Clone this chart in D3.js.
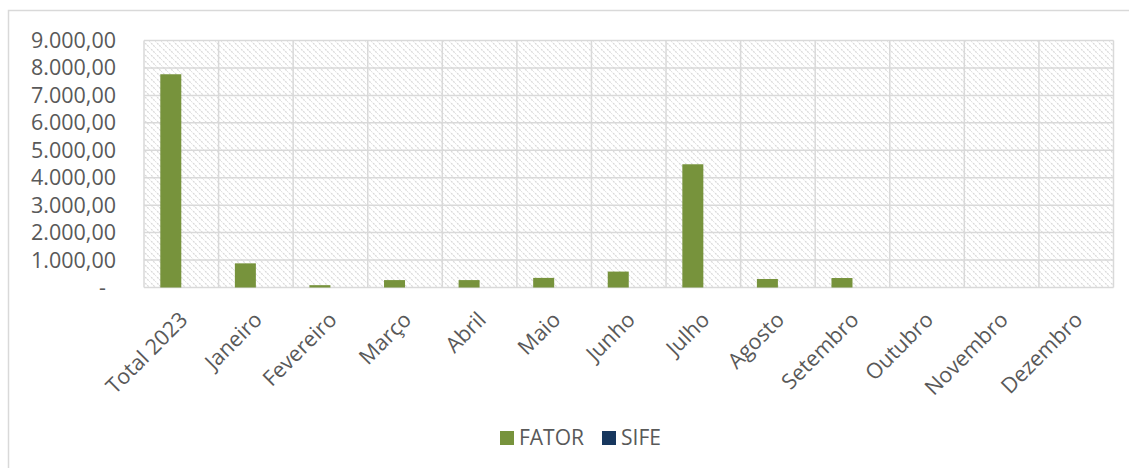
<!DOCTYPE html>
<html><head><meta charset="utf-8">
<script src="https://cdn.jsdelivr.net/npm/d3@7"></script>
<style>body{margin:0;background:#fff}svg{display:block}text{font-family:"Open Sans",sans-serif;fill:#595959}</style>
</head><body>
<svg id="c" width="1129" height="468"></svg>
<script>
const categories = ["Total 2023","Janeiro","Fevereiro","Março","Abril","Maio","Junho","Julho","Agosto","Setembro","Outubro","Novembro","Dezembro"];
const fator = [7770,880,85,270,270,350,580,4490,310,345,0,0,0];
const sife = [0,0,0,0,0,0,0,0,0,0,0,0,0];
const seriesNames = ["FATOR","SIFE"];
const seriesColors = ["#77933C","#17375E"];
const yTicks = [0,1000,2000,3000,4000,5000,6000,7000,8000,9000];

const svg = d3.select("#c");
const M = {left:144, right:1113.5, top:40.5, bottom:287.5};
const defs = svg.append("defs");
const pat = defs.append("pattern").attr("id","hatch").attr("patternUnits","userSpaceOnUse").attr("width",6).attr("height",6);
pat.append("rect").attr("width",6).attr("height",6).attr("fill","#fff");
pat.append("path").attr("d","M-1,-1 L7,7 M-4,2 L2,8 M4,-2 L10,4").attr("stroke","#d9d9d9").attr("stroke-width",1.2).attr("stroke-dasharray","2,1");

// outer border
svg.append("rect").attr("x",8.5).attr("y",10.5).attr("width",1130).attr("height",470).attr("fill","none").attr("stroke","#d9d9d9").attr("stroke-width",1.5);

const x = d3.scaleBand().domain(categories).range([M.left,M.right]).padding(0);
const x1 = d3.scaleBand().domain(seriesNames).range([0,x.bandwidth()]).paddingInner(0).paddingOuter(0.776);
const y = d3.scaleLinear().domain([0,9000]).range([M.bottom,M.top]);

svg.append("rect").attr("x",M.left).attr("y",M.top).attr("width",M.right-M.left).attr("height",M.bottom-M.top).attr("fill","url(#hatch)");

// gridlines
const g = svg.append("g");
g.selectAll("line.h").data(yTicks).join("line").attr("x1",M.left).attr("x2",M.right).attr("y1",d=>y(d)).attr("y2",d=>y(d)).attr("stroke","#d9d9d9").attr("stroke-width",1.5);
g.selectAll("line.v").data(categories.map(c=>x(c)).concat([M.right])).join("line").attr("class","v").attr("x1",d=>d).attr("x2",d=>d).attr("y1",M.top).attr("y2",M.bottom).attr("stroke","#d9d9d9").attr("stroke-width",1.5);

// bars
const data = [fator, sife];
seriesNames.forEach((s,si)=>{
  svg.append("g").selectAll("rect").data(categories).join("rect")
    .attr("x",(c)=>x(c)+x1(s)).attr("width",x1.bandwidth())
    .attr("y",(c,i)=>y(data[si][i])).attr("height",(c,i)=>y(0)-y(data[si][i]))
    .attr("fill",seriesColors[si]);
});

// y axis labels
const fmt = d => d===0 ? "-" : d3.format(",.2f")(d).replace(/,/g,"#").replace(/\./g,",").replace(/#/g,".");
svg.append("g").selectAll("text").data(yTicks).join("text")
  .attr("x",d=>d===0?106:116).attr("y",d=>y(d)).attr("dy","0.35em").attr("text-anchor","end")
  .style("font-size","21.5px").text(fmt);

// x labels
svg.append("g").selectAll("text").data(categories).join("text")
  .attr("transform",c=>`translate(${x(c)+x.bandwidth()/2-3},${M.bottom+23}) rotate(-45)`)
  .attr("text-anchor","end").attr("dy","0.7em").style("font-size","21.5px").text(c=>c);

// legend
const lg = svg.append("g");
const lx = [500, 602];
seriesNames.forEach((s,i)=>{
  lg.append("rect").attr("x",lx[i]).attr("y",431).attr("width",14).attr("height",14).attr("fill",seriesColors[i]);
  lg.append("text").attr("x",lx[i]+19).attr("y",445).style("font-size","21px").text(s);
});
</script>
</body></html>
